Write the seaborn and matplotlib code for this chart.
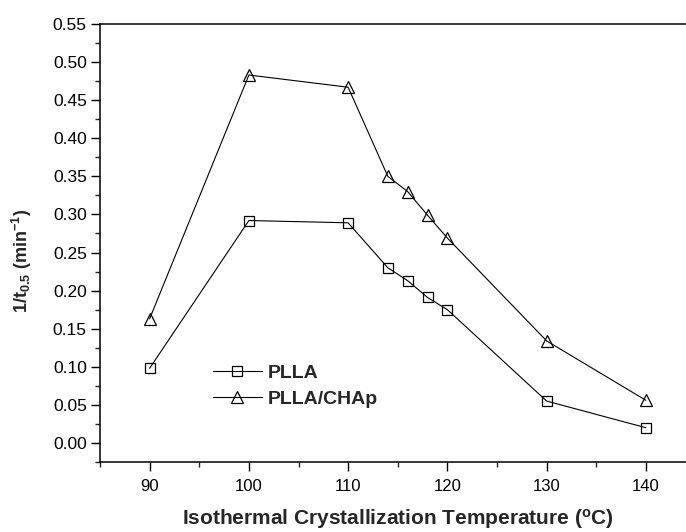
import matplotlib
matplotlib.use("Agg")
import matplotlib.pyplot as plt
from matplotlib.ticker import MultipleLocator, FormatStrFormatter
import seaborn as sns
import pandas as pd

temps = [90, 100, 110, 114, 116, 118, 120, 130, 140]
plla = [0.098, 0.292, 0.289, 0.230, 0.213, 0.191, 0.175, 0.055, 0.020]
plla_chap = [0.163, 0.483, 0.467, 0.350, 0.330, 0.299, 0.269, 0.134, 0.056]
series_names = ["PLLA", "PLLA/CHAp"]

sns.set_style("ticks")
plt.rcParams["font.family"] = ["Liberation Sans", "DejaVu Sans"]
plt.rcParams["mathtext.fontset"] = "custom"
plt.rcParams["mathtext.rm"] = "Liberation Sans"
plt.rcParams["mathtext.bf"] = "Liberation Sans:bold"
plt.rcParams["mathtext.default"] = "bf"

df = pd.DataFrame({"T": temps, "PLLA": plla, "PLLA/CHAp": plla_chap})

fig = plt.figure(figsize=(6.86, 5.32), dpi=100)
ax = fig.add_axes([100/686, 70/532, 595.5/686, 438/532])

sns.lineplot(data=df, x="T", y="PLLA", ax=ax, color="k", lw=0.8,
             marker="s", markersize=7, markerfacecolor="none",
             markeredgecolor="k", markeredgewidth=0.9, label=series_names[0])
sns.lineplot(data=df, x="T", y="PLLA/CHAp", ax=ax, color="k", lw=0.8,
             marker="^", markersize=8.5, markerfacecolor="none",
             markeredgecolor="k", markeredgewidth=0.9, label=series_names[1])

ax.set_xlim(85, 145)
ax.set_ylim(-0.025, 0.55)
ax.set_xticks([90, 100, 110, 120, 130, 140])
ax.xaxis.set_minor_locator(MultipleLocator(5))
ax.set_yticks([round(0.05 * i, 2) for i in range(12)])
ax.yaxis.set_minor_locator(MultipleLocator(0.025))
ax.yaxis.set_major_formatter(FormatStrFormatter("%.2f"))

ax.tick_params(axis="both", which="major", direction="out", length=6.5,
               width=1.0, labelsize=12, colors="k")
ax.tick_params(axis="y", which="major", labelsize=12.5, pad=3)
ax.tick_params(axis="both", which="minor", direction="out", length=3.5,
               width=1.0)
ax.tick_params(axis="x", which="major", pad=6)
ax.tick_params(top=False, right=False, which="both")

for s in ax.spines.values():
    s.set_linewidth(1.1)
    s.set_color("k")

ax.set_xlabel(r"Isothermal Crystallization Temperature ($^{o}$C)",
              fontsize=15, fontweight="bold", labelpad=9)
ax.set_ylabel(r"1/t$_{0.5}$ (min$^{-1}$)", fontsize=13, fontweight="bold",
              labelpad=8)
ax.yaxis.set_label_coords(-0.11, 0.46)

leg = ax.legend(loc="upper left", bbox_to_anchor=(213/686, 1 - 364/532),
                bbox_transform=fig.transFigure, frameon=False,
                handlelength=2.5, handletextpad=0.3, labelspacing=0.45,
                borderpad=0, borderaxespad=0,
                prop={"weight": "bold", "size": 14})

fig.savefig("out.png", dpi=100)
